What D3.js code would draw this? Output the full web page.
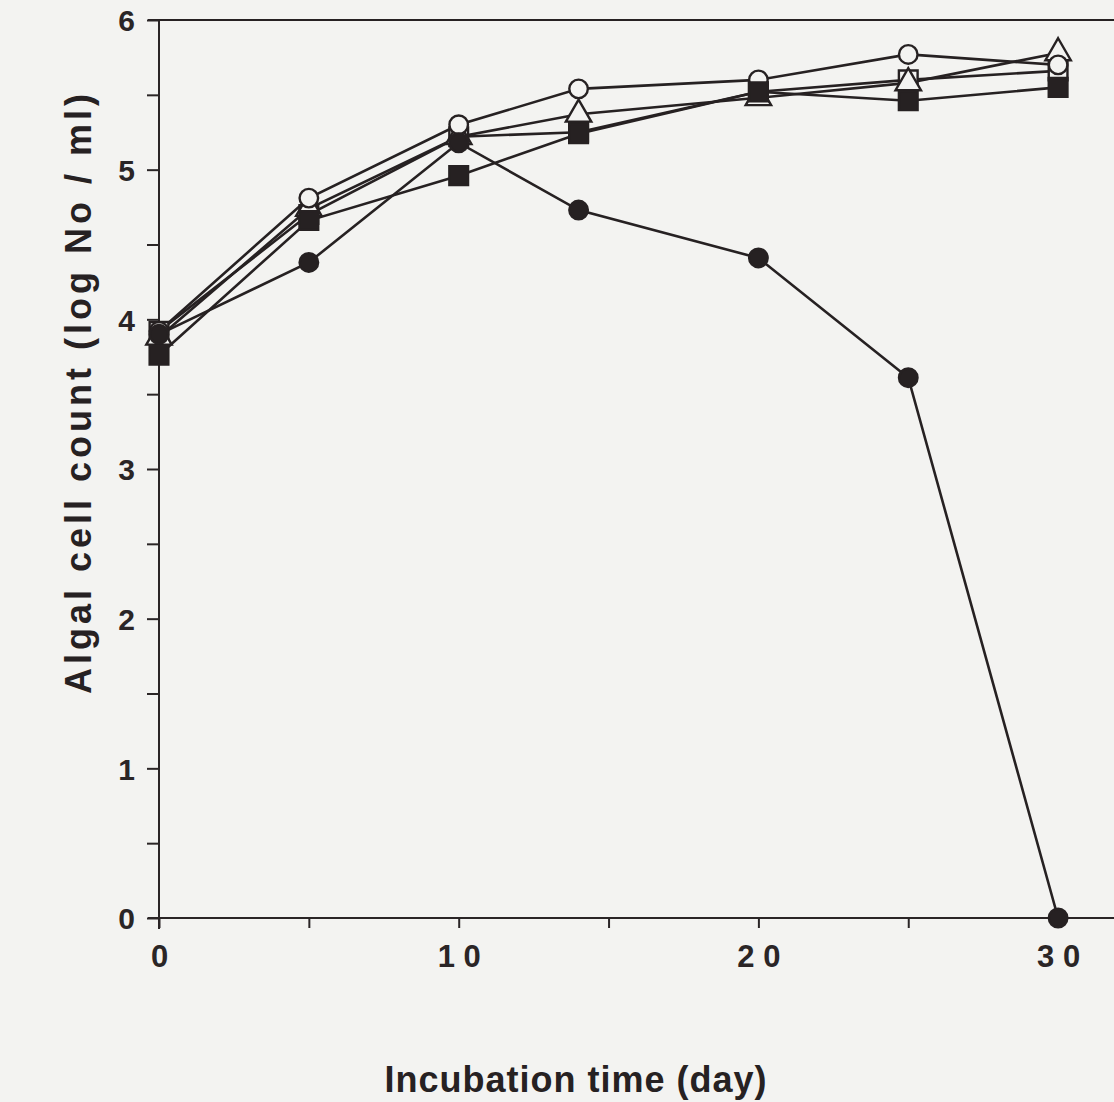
<!DOCTYPE html>
<html>
<head>
<meta charset="utf-8">
<script src="https://cdn.jsdelivr.net/npm/d3@7"></script>
<style>
  body { margin: 0; background: #f3f3f1; }
  svg { display: block; }
  .axis path, .axis line { stroke: #2a2526; stroke-width: 2; }
  .axis text { font-family: "Liberation Sans", Arial, sans-serif; font-weight: bold; fill: #2a2526; }
</style>
</head>
<body>
<svg width="1114" height="1102"></svg>
<script>
// incubation days
var days = [0, 5, 10, 14, 20, 25, 30];

// algal cell count (log No / ml), one array per treatment
var openCircle   = [3.92, 4.81, 5.30, 5.54, 5.60, 5.77, 5.70];
var openTriangle = [3.88, 4.74, 5.22, 5.37, 5.48, 5.58, 5.78];
var openSquare   = [3.92, 4.70, 5.22, 5.25, 5.52, 5.60, 5.66];
var filledSquare = [3.76, 4.66, 4.96, 5.24, 5.52, 5.46, 5.55];
var filledCircle = [3.90, 4.38, 5.18, 4.73, 4.41, 3.61, 0];

var yTicks = [0, 0.5, 1, 1.5, 2, 2.5, 3, 3.5, 4, 4.5, 5, 5.5, 6];
var xTicks = [0, 5, 10, 15, 20, 25, 30];
var xLabels = ["0", "1 0", "2 0", "3 0"];

var series = [
  {values: openSquare,   shape: "square",   fill: false},
  {values: openTriangle, shape: "triangle", fill: false},
  {values: openCircle,   shape: "circle",   fill: false},
  {values: filledSquare, shape: "square",   fill: true},
  {values: filledCircle, shape: "circle",   fill: true}
];

var ink = "#262122";
var svg = d3.select("svg"),
    width = +svg.attr("width");

var x = d3.scaleLinear().domain([0, 32]).range([159, 159 + 32 * 29.97]),
    y = d3.scaleLinear().domain([0, 6]).range([918, 20]);

// top frame line
svg.append("line")
    .attr("x1", 148).attr("x2", width)
    .attr("y1", y(6)).attr("y2", y(6))
    .attr("stroke", ink).attr("stroke-width", 2);

var yAxis = svg.append("g")
    .attr("class", "axis")
    .attr("transform", "translate(" + x(0) + ",0)")
    .call(d3.axisLeft(y).tickValues(yTicks).tickSize(12).tickPadding(12)
      .tickFormat(function(d) { return d % 1 === 0 ? d : ""; }));
yAxis.select(".domain").attr("d", "M0," + y(6) + "V" + (y(0) + 11));
yAxis.selectAll("text").style("font-size", "30px").attr("dy", "0.36em");

var xAxis = svg.append("g")
    .attr("class", "axis")
    .attr("transform", "translate(0," + y(0) + ")")
    .call(d3.axisBottom(x).tickValues(xTicks).tickSize(10).tickPadding(17)
      .tickFormat(function(d) { return d % 10 === 0 ? xLabels[d / 10] : ""; }));
xAxis.select(".domain").attr("d", "M148,0H" + width);
xAxis.selectAll("text").style("font-size", "31px").attr("dy", "0.71em");

var line = d3.line()
    .x(function(d, i) { return x(days[i]); })
    .y(function(d) { return y(d); });

svg.selectAll(".series")
  .data(series)
  .enter().append("path")
    .attr("class", "series")
    .attr("fill", "none")
    .attr("stroke", ink)
    .attr("stroke-width", 2.6)
    .attr("d", function(s) { return line(s.values); });

var symbols = {
  circle: d3.symbol().type(d3.symbolCircle).size(270),
  square: d3.symbol().type(d3.symbolSquare).size(350),
  triangle: d3.symbol().type(d3.symbolTriangle).size(280)
};

series.forEach(function(s) {
  svg.append("g").selectAll("path")
    .data(s.values)
    .enter().append("path")
      .attr("transform", function(d, i) { return "translate(" + x(days[i]) + "," + y(d) + ")"; })
      .attr("d", symbols[s.shape])
      .attr("fill", s.fill ? ink : "#f3f3f1")
      .attr("stroke", ink)
      .attr("stroke-width", 2.4);
});

svg.append("text")
    .attr("transform", "translate(91,392) rotate(-90)")
    .attr("text-anchor", "middle")
    .style("font-family", "Liberation Sans, Arial, sans-serif")
    .style("font-weight", "bold")
    .style("font-size", "36px")
    .style("letter-spacing", "4px")
    .attr("fill", ink)
    .text("Algal cell count (log No / ml)");

svg.append("text")
    .attr("x", 576).attr("y", 1092)
    .attr("text-anchor", "middle")
    .style("font-family", "Liberation Sans, Arial, sans-serif")
    .style("font-weight", "bold")
    .style("font-size", "36px")
    .style("letter-spacing", "1px")
    .attr("fill", ink)
    .text("Incubation time (day)");
</script>
</body>
</html>
